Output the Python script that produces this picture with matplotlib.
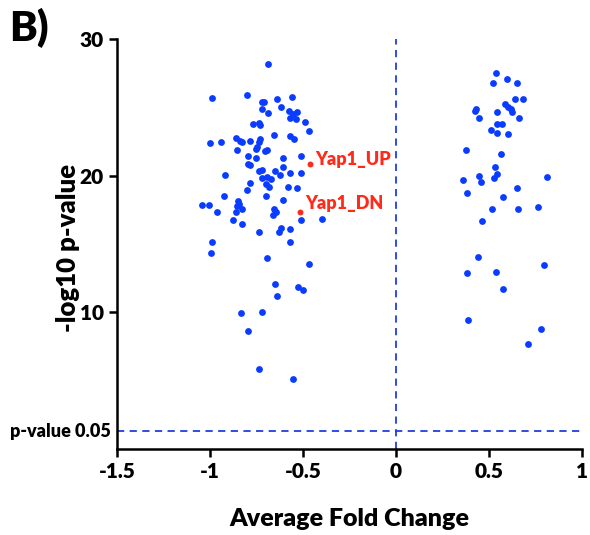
import matplotlib.pyplot as plt

# left cluster (down-regulated)
left_fc = [-0.687, -0.988, -0.803, -0.720, -0.710, -0.641, -0.561, -0.719, -0.690, -0.618,
           -0.574, -0.534, -0.552, -0.570, -0.538, -0.489, -0.468, -0.767, -0.735, -0.730,
           -1.000, -0.941, -0.862, -0.839, -0.828, -0.785, -0.731, -0.738, -0.749, -0.753,
           -0.656, -0.570, -0.548, -0.856, -0.704, -0.695, -0.794, -0.753, -0.609, -0.512,
           -0.794, -0.785, -0.918, -0.737, -0.719, -0.652, -0.606, -0.570, -0.512, -0.723,
           -0.692, -0.673, -0.624, -0.785, -0.803, -0.699, -0.681, -0.582, -0.534, -0.923,
           -0.701, -0.606, -1.043, -1.005, -0.961, -0.848, -0.842, -0.853, -0.826, -0.860,
           -0.875, -0.826, -0.656, -0.645, -0.660, -0.512, -0.399, -0.735, -0.618, -0.627,
           -0.570, -0.991, -0.996, -0.570, -0.692, -0.466, -0.648, -0.525, -0.498, -0.638,
           -0.835, -0.722, -0.796, -0.737, -0.555]
left_p = [28.15, 25.66, 25.88, 25.40, 25.40, 25.58, 25.73, 24.85, 24.56, 25.04,
          24.75, 24.67, 24.50, 24.21, 24.16, 23.94, 23.28, 23.77, 23.82, 23.70,
          22.40, 22.43, 22.72, 22.52, 22.43, 22.52, 22.65, 22.43, 22.11, 21.96,
          22.96, 22.89, 22.65, 21.91, 21.79, 21.91, 21.42, 21.28, 21.30, 21.42,
          20.84, 20.81, 20.07, 20.32, 20.45, 20.36, 20.64, 20.21, 20.21, 19.85,
          19.92, 19.79, 20.03, 19.46, 18.97, 19.37, 19.19, 19.15, 19.11, 18.49,
          18.49, 18.19, 17.83, 17.85, 17.34, 18.14, 17.95, 17.76, 17.59, 17.31,
          16.73, 16.43, 17.59, 17.34, 17.15, 16.73, 16.85, 15.85, 16.19, 15.85,
          16.07, 15.17, 14.31, 15.17, 13.99, 13.55, 12.08, 11.89, 11.63, 11.22,
          9.96, 10.00, 8.66, 5.89, 5.11]

# right cluster (up-regulated)
right_fc = [0.538, 0.595, 0.523, 0.652, 0.640, 0.684, 0.586, 0.604, 0.617, 0.622,
            0.430, 0.426, 0.541, 0.445, 0.660, 0.541, 0.571, 0.509, 0.541, 0.604,
            0.376, 0.565, 0.532, 0.545, 0.527, 0.448, 0.459, 0.362, 0.810, 0.383,
            0.649, 0.574, 0.515, 0.654, 0.762, 0.464, 0.442, 0.383, 0.536, 0.794,
            0.577, 0.389, 0.780, 0.710]
right_p = [27.49, 27.05, 26.80, 26.80, 25.58, 25.58, 25.22, 25.04, 24.85, 24.63,
           24.85, 24.72, 24.67, 24.19, 24.19, 23.75, 23.75, 23.33, 23.09, 23.04,
           21.86, 21.55, 20.64, 20.15, 19.81, 19.96, 19.52, 19.66, 19.91, 18.75,
           19.08, 18.47, 17.59, 17.53, 17.73, 16.65, 14.06, 12.86, 12.96, 13.48,
           11.69, 9.46, 8.80, 7.65]

# highlighted genesets
hl_names = ["Yap1_UP", "Yap1_DN"]
hl_fc = [-0.462, -0.516]
hl_p = [20.89, 17.34]

p_cut = 1.301  # -log10(0.05)

plt.rcParams['font.family'] = ['Lato', 'DejaVu Sans']
W = 'heavy'

fig = plt.figure(figsize=(5.9, 5.35), dpi=100)
ax = fig.add_axes([117 / 590, 86 / 535, 465 / 590, 410 / 535])

blue = "#0a3cff"
red = "#ff2a1a"
ax.scatter(left_fc + right_fc, left_p + right_p, s=24, color=blue, linewidths=0, zorder=3)
ax.scatter(hl_fc, hl_p, s=18, color=red, linewidths=0, zorder=4)
ax.text(hl_fc[0] + 0.03, hl_p[0] + 0.3, hl_names[0], color=red, fontsize=13,
        fontweight=W, va='center', ha='left')
ax.text(hl_fc[1] + 0.03, hl_p[1] + 0.6, hl_names[1], color=red, fontsize=13,
        fontweight=W, va='center', ha='left')

ax.axhline(p_cut, color="#1f3fe0", lw=1.3, ls=(0, (4, 3)), zorder=2)
ax.axvline(0, color="#1f3fe0", lw=1.3, ls=(0, (4, 3)), zorder=2)

ax.set_xlim(-1.5, 1)
ax.set_ylim(0, 30)
ax.set_xticks([-1.5, -1, -0.5, 0, 0.5, 1])
ax.set_xticklabels(["-1.5", "-1", "-0.5", "0", "0.5", "1"])
ax.set_yticks([10, 20, 30])
ax.tick_params(axis='both', labelsize=15, width=1.8, length=6, direction='out')
for lab in ax.get_xticklabels() + ax.get_yticklabels():
    lab.set_fontweight(W)

for side in ['top', 'right']:
    ax.spines[side].set_visible(False)
for side in ['left', 'bottom']:
    ax.spines[side].set_linewidth(1.8)

ax.text(-1.535, p_cut, "p-value 0.05", fontsize=13, fontweight=W,
        ha='right', va='center')

ax.set_xlabel("Average Fold Change", fontsize=18, fontweight=W)
ax.set_ylabel("-log10 p-value", fontsize=18.5, fontweight=W)
ax.xaxis.set_label_coords(0.5, -0.145)
ax.yaxis.set_label_coords(-0.08, 0.49)
fig.text(0.015, 0.985, "B)", fontsize=30, fontweight=W, va='top', ha='left')

fig.savefig("out.png", dpi=100)
